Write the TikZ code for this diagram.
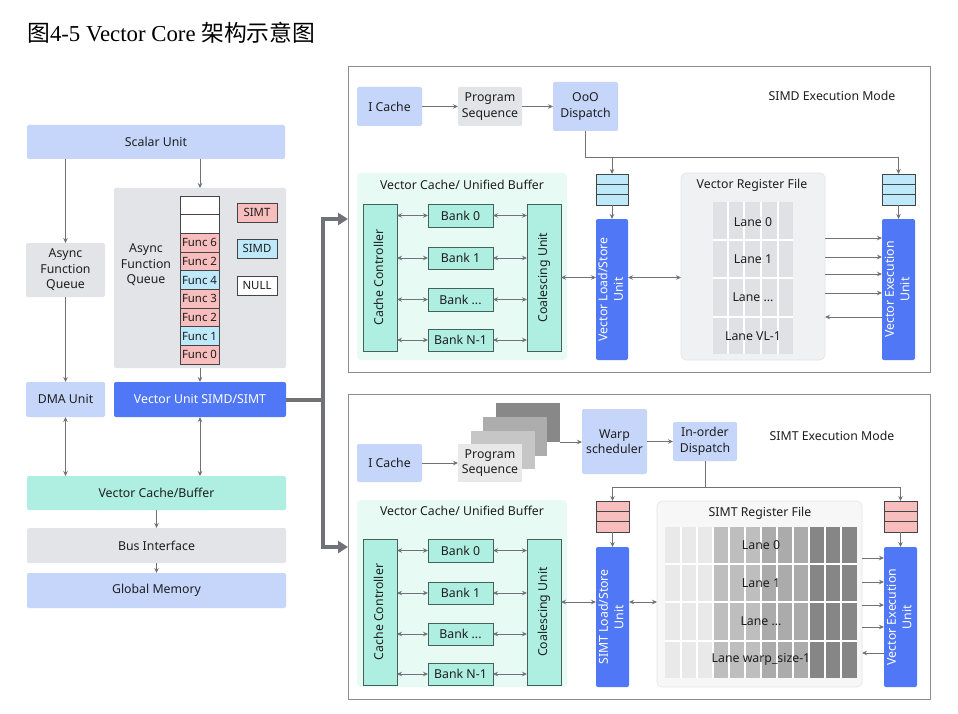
\documentclass[tikz,border=0pt]{standalone}
\usepackage{fontspec}
\usepackage{graphicx}
\setmainfont{Noto Sans}
\setsansfont{Noto Sans}
\newfontfamily\titleserif{Liberation Serif}
\newfontfamily\cjk{Noto Sans CJK SC}
\usetikzlibrary{arrows.meta,calc}
\definecolor{lblue}{HTML}{C6D6FB}
\definecolor{lgray}{HTML}{E3E4E8}
\definecolor{dblue}{HTML}{5077F5}
\definecolor{mint}{HTML}{AEEFE2}
\definecolor{lmint}{HTML}{E8FAF4}
\definecolor{mintd}{HTML}{44615A}
\definecolor{pinkc}{HTML}{F8BDBD}
\definecolor{cyanc}{HTML}{BDE9FA}
\definecolor{celld}{HTML}{444444}
\definecolor{agray}{HTML}{707277}
\definecolor{frame}{HTML}{8C8C8C}
\definecolor{txt}{HTML}{1E1E1E}
\definecolor{rfbg}{HTML}{F0F1F3}
\definecolor{rfbg2}{HTML}{F7F7F8}
\definecolor{laneg}{HTML}{E0E1E4}
\definecolor{g1}{HTML}{E9E9E9}
\definecolor{g2}{HTML}{BEBEBE}
\definecolor{g3}{HTML}{ABABAB}
\definecolor{g4}{HTML}{868686}
\definecolor{st1}{HTML}{E8E8E8}
\definecolor{st2}{HTML}{C6C6C6}
\definecolor{st3}{HTML}{ADADAD}
\definecolor{st4}{HTML}{888888}
\newcommand\fs{\fontsize{12.3}{15.5}\selectfont}
\newcommand\fsm{\fontsize{11.4}{13}\selectfont}
\newcommand\bx[7]{\node[#6, minimum width={(#4)-(#2)}, minimum height={(#5)-(#3)}] (#1) at ({((#2)+(#4))/2},{((#3)+(#5))/2}) {#7};}
\newcommand\rt[1]{\rotatebox{90}{\begin{tabular}{@{}c@{}}#1\end{tabular}}}
\tikzset{
  bx/.style={draw=none, inner sep=0pt, outer sep=0pt, rounded corners=2pt, font=\fs, align=center, text=txt},
  lb/.style={bx, fill=lblue},
  gb/.style={bx, fill=lgray},
  db/.style={bx, fill=dblue, text=white},
  mb/.style={bx, fill=mint},
  mbd/.style={bx, fill=mint, draw=mintd, rounded corners=0pt, line width=0.8pt},
  cellb/.style={bx, draw=celld, rounded corners=0pt, line width=0.8pt, font=\fsm},
  qb/.style={bx, draw=celld, rounded corners=0pt, line width=0.8pt},
  fr/.style={bx, draw=frame, rounded corners=0pt, line width=1pt},
  txtn/.style={inner sep=0pt, font=\fs, align=center, text=txt},
  ln/.style={draw=agray, line width=1pt},
  arr/.style={draw=agray, line width=1pt, -{Stealth[length=5pt,width=4.5pt]}},
  darr/.style={draw=agray, line width=1pt, {Stealth[length=5pt,width=4.5pt]}-{Stealth[length=5pt,width=4.5pt]}},
  tarr/.style={draw=agray, line width=4pt, -{Triangle[length=10pt,width=12pt]}},
}
\begin{document}
\begin{tikzpicture}[x=1pt,y=-1pt]
\useasboundingbox (0,0) rectangle (958,714);
\fill[white] (0,0) rectangle (958,714);
% title
\node[anchor=west, inner sep=0pt, text=black] (title) at (27,33) {\fontsize{22.8}{26}\selectfont{\cjk 图}\titleserif 4-5 Vector Core {\cjk 架构示意图}};

% ---------------- left part
\bx{scalar}{27}{125}{285}{159}{lb}{Scalar Unit}
\bx{afq}{26}{243}{105}{297}{gb}{Async\\Function\\Queue}
\bx{qbox}{114}{188}{286}{368}{gb}{}
\node[txtn] (qlabel) at (146,265) {Async\\Function\\Queue};
\foreach [count=\i] \t/\c in {/white,/white,Func 6/pinkc,Func 2/pinkc,Func 4/cyanc,Func 3/pinkc,Func 2/pinkc,Func 1/cyanc,Func 0/pinkc}
  {\node[cellb, fill=\c, minimum width=39, minimum height=18.67] (cell\i) at (199.5,{196+18.67*(\i-0.5)}) {\t};}
\bx{lsimt}{237}{203}{277}{222}{cellb, fill=pinkc}{SIMT}
\bx{lsimd}{237}{239}{277}{258}{cellb, fill=cyanc}{SIMD}
\bx{lnull}{237}{276}{277}{295}{cellb, fill=white}{NULL}
\bx{dma}{26}{382}{105}{417}{lb}{DMA Unit}
\bx{vu}{114}{382}{286}{417}{db}{Vector Unit SIMD/SIMT}
\bx{vcb}{27}{476}{286}{510}{mb}{Vector Cache/Buffer}
\bx{bus}{27}{528}{286}{563}{gb}{Bus Interface}
\bx{gm}{27}{573}{286}{608}{lb}{Global Memory}

\draw[arr] (scalar.south -| afq.north) -- (afq.north);
\draw[arr] (scalar.south -| qbox.north) -- (qbox.north);
\draw[arr] (afq) -- (dma);
\draw[arr] (qbox) -- (vu);
\draw[darr] (dma) -- (dma |- vcb.north);
\draw[darr] (vu) -- (vu |- vcb.north);
\draw[arr] (vcb.south -| bus.north) -- (bus.north);
\draw[arr] (bus) -- (gm);

% ---------------- frames
\bx{tf}{348}{67}{930}{372}{fr}{}
\bx{bf}{348}{394}{930}{699}{fr}{}
\coordinate (tj) at (323,399.5);
\coordinate (ta) at (348,219);
\coordinate (tb) at (348,547);
\draw[tarr] (vu.east) -- (tj) |- (ta);
\draw[tarr] (tj) |- (tb);

% ---------------- top panel (SIMD)
\bx{ic1}{357}{87}{422}{126}{lb}{I Cache}
\bx{ps1}{458}{87}{522}{126}{gb}{Program\\Sequence}
\bx{od1}{553}{82}{618}{131}{lb}{OoO\\Dispatch}
\node[txtn] (m1) at (832,96) {SIMD Execution Mode};
\bx{vcu1}{357}{173}{567}{360}{bx, fill=lmint, rounded corners=4pt}{}
\node[txtn] (vcut1) at (462,185) {Vector Cache/ Unified Buffer};
\bx{cc1}{363}{204}{397}{351}{mbd}{\rt{Cache Controller}}
\bx{cu1}{527}{204}{561}{351}{mbd}{\rt{Coalescing Unit}}
\bx{b10}{428}{204}{493}{227}{mbd}{Bank 0}
\bx{b11}{428}{247}{493}{269}{mbd}{Bank 1}
\bx{b12}{428}{288}{493}{311}{mbd}{Bank ...}
\bx{b13}{428}{329}{493}{351}{mbd}{Bank N-1}
\foreach \b in {b10,b11,b12,b13}{
  \draw[darr] (cc1.east |- \b) -- (\b.west);
  \draw[darr] (\b.east) -- (cu1.west |- \b);
}
\bx{q1l}{596}{174}{628}{205}{qb, fill=cyanc}{}
\bx{q1r}{882}{174}{915}{205}{qb, fill=cyanc}{}
\foreach \q in {q1l,q1r}{
  \draw[celld, line width=0.8pt] ($(\q.north west)!0.333!(\q.south west)$) -- ($(\q.north east)!0.333!(\q.south east)$);
  \draw[celld, line width=0.8pt] ($(\q.north west)!0.667!(\q.south west)$) -- ($(\q.north east)!0.667!(\q.south east)$);
}
\bx{ls1}{596}{219}{628}{360}{db}{\rt{Vector Load/Store\\Unit}}
\bx{ex1}{882}{219}{915}{360}{db}{\rt{Vector Execution\\Unit}}
\bx{vrf1}{681}{173}{825}{360}{bx, fill=rfbg, draw=lgray, line width=0.6pt, rounded corners=5pt}{}
\node[txtn] (vrft1) at (752,185) {Vector Register File};
\fill[laneg] (713,202) rectangle (793,354);
\foreach \x in {728,744,761,778} \draw[white, line width=1.2pt] (\x,202) -- (\x,354);
\foreach \y in {240,278,317} \draw[white, line width=1.2pt] (713,\y) -- (793,\y);
\node[txtn] (l10) at (753,222) {Lane 0};
\node[txtn] (l11) at (753,259) {Lane 1};
\node[txtn] (l12) at (753,297) {Lane ...};
\node[txtn] (l13) at (753,336) {Lane VL-1};

\coordinate (j1) at (585.5,158);
\draw[arr] (ic1) -- (ps1);
\draw[arr] (ps1) -- (od1);
\draw[ln] (od1.south) -- (j1) -- (j1 -| q1r.north);
\draw[arr] (j1 -| q1l.north) -- (q1l.north);
\draw[arr] (j1 -| q1r.north) -- (q1r.north);
\draw[arr] (q1l) -- (ls1);
\draw[arr] (q1r) -- (ex1);
\draw[darr] (cu1.east) -- (cu1.east -| ls1.west);
\draw[darr] (ls1.east |- cu1.east) -- (vrf1.west |- cu1.east);
\foreach \y in {238,257,274,293} \draw[arr] (vrf1.east |- 0,\y) -- (ex1.west |- 0,\y);
\draw[arr] (ex1.west |- 0,317) -- (vrf1.east |- 0,317);

% ---------------- bottom panel (SIMT)
\bx{ic2}{357}{444}{422}{482}{lb}{I Cache}
\bx{s4}{496}{403}{560}{442}{bx, fill=st4, rounded corners=0pt}{}
\bx{s3}{483}{417}{547}{456}{bx, fill=st3, rounded corners=0pt}{}
\bx{s2}{471}{431}{535}{469}{bx, fill=st2, rounded corners=0pt}{}
\bx{ps2}{458}{444}{522}{482}{bx, fill=st1, rounded corners=0pt}{Program\\Sequence}
\bx{ws2}{582}{409}{647}{474}{lb}{Warp\\scheduler}
\bx{id2}{673}{422}{737}{461}{lb}{In-order\\Dispatch}
\node[txtn] (m2) at (832,436) {SIMT Execution Mode};
\bx{vcu2}{357}{500}{567}{687}{bx, fill=lmint, rounded corners=4pt}{}
\node[txtn] (vcut2) at (462,511) {Vector Cache/ Unified Buffer};
\bx{cc2}{363}{539}{397}{685}{mbd}{\rt{Cache Controller}}
\bx{cu2}{527}{539}{561}{685}{mbd}{\rt{Coalescing Unit}}
\bx{b20}{428}{539}{493}{562}{mbd}{Bank 0}
\bx{b21}{428}{582}{493}{604}{mbd}{Bank 1}
\bx{b22}{428}{623}{493}{645}{mbd}{Bank ...}
\bx{b23}{428}{663}{493}{685}{mbd}{Bank N-1}
\foreach \b in {b20,b21,b22,b23}{
  \draw[darr] (cc2.east |- \b) -- (\b.west);
  \draw[darr] (\b.east) -- (cu2.west |- \b);
}
\bx{q2l}{596}{501}{629}{532}{qb, fill=pinkc}{}
\bx{q2r}{884}{501}{917}{532}{qb, fill=pinkc}{}
\foreach \q in {q2l,q2r}{
  \draw[celld, line width=0.8pt] ($(\q.north west)!0.333!(\q.south west)$) -- ($(\q.north east)!0.333!(\q.south east)$);
  \draw[celld, line width=0.8pt] ($(\q.north west)!0.667!(\q.south west)$) -- ($(\q.north east)!0.667!(\q.south east)$);
}
\bx{ls2}{596}{547}{629}{687}{db}{\rt{SIMT Load/Store\\Unit}}
\bx{ex2}{884}{547}{917}{687}{db}{\rt{Vector Execution\\Unit}}
\bx{srf2}{657}{501}{862}{687}{bx, fill=rfbg2, draw=lgray, line width=0.6pt, rounded corners=5pt}{}
\node[txtn] (srft2) at (760,513) {SIMT Register File};
\foreach \k/\c in {0/g1,1/g1,2/g1,3/g2,4/g2,5/g2,6/g3,7/g3,8/g3,9/g4,10/g4,11/g4}
  \fill[\c] ({665+16*\k},527) rectangle ({681+16*\k},678);
\foreach \k in {1,...,11} \draw[white, line width=1.2pt] ({665+16*\k},527) -- ({665+16*\k},678);
\foreach \y in {564,602,641} \draw[white, line width=1.2pt] (665,\y) -- (857,\y);
\node[txtn] (l20) at (761,545) {Lane 0};
\node[txtn] (l21) at (761,583) {Lane 1};
\node[txtn] (l22) at (761,621) {Lane ...};
\node[txtn] (l23) at (761,659) {Lane warp\_size-1};

\coordinate (j2) at (705,487);
\draw[arr] (ic2) -- (ps2);
\draw[arr] (s4.south east) -- (s4.south east -| ws2.west);
\draw[arr] (ws2) -- (id2);
\draw[ln] (id2.south) -- (j2);
\draw[ln] (j2 -| q2l.north) -- (j2 -| q2r.north);
\draw[arr] (j2 -| q2l.north) -- (q2l.north);
\draw[arr] (j2 -| q2r.north) -- (q2r.north);
\draw[arr] (q2l) -- (ls2);
\draw[arr] (q2r) -- (ex2);
\draw[darr] (cu2.east |- 0,602) -- (ls2.west |- 0,602);
\draw[darr] (ls2.east |- 0,602) -- (srf2.west |- 0,602);
\foreach \y in {558,582,605,627} \draw[arr] (srf2.east |- 0,\y) -- (ex2.west |- 0,\y);
\draw[arr] (ex2.west |- 0,653) -- (srf2.east |- 0,653);
\end{tikzpicture}
\end{document}
